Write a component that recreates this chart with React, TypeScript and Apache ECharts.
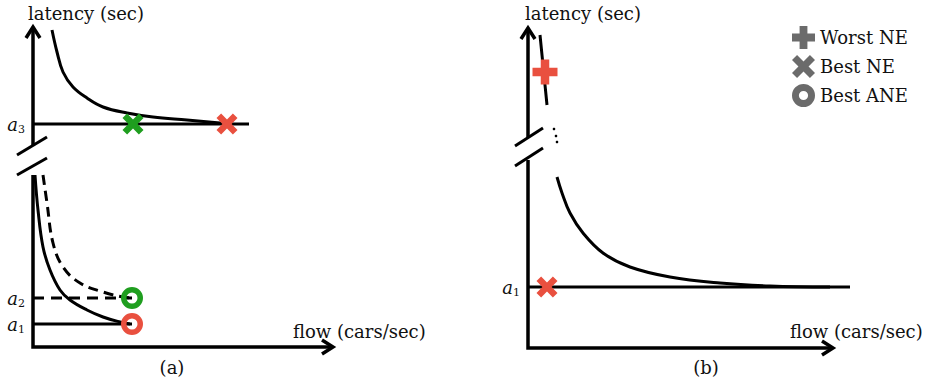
import React, { useEffect, useRef } from "react";
import * as echarts from "echarts";

const FONT = '"DejaVu Serif", "Liberation Serif", serif';
const INK = "#000";
const TEXT = "#111";
const RED = "#e9503f";
const GREEN = "#1f9e1f";
const GRAY = "#6b6b6b";

// Panel (a): latency levels and curves (flow, latency)
const A_LEVEL_1 = 2.3;
const A_LEVEL_2 = 4.9;
const A_LEVEL_3 = 22.3;
const aUpperLatency = [
  [1.9, 31.7], [2.4, 29.5], [3.0, 27.5], [4.0, 26.0], [5.4, 24.9], [7.0, 24.0],
  [9.4, 23.4], [12.0, 23.0], [15.4, 22.7], [18.7, 22.4], [20.0, 22.3],
];
const aLowerLatency = [
  [0.2, 17.2], [0.5, 13.7], [1.0, 10.0], [1.7, 7.7], [2.7, 5.7], [3.7, 4.7],
  [5.4, 3.7], [7.0, 3.0], [8.7, 2.5], [9.7, 2.3],
];
const aLowerLatencyAlt = [
  [1.0, 17.2], [1.4, 14.4], [2.0, 10.4], [3.0, 8.0], [4.7, 6.4], [7.0, 5.5],
  [9.0, 5.0], [9.9, 4.9],
];
const aLevel3End = 21.6;
const aLevel12End = 9.9;
const aBestNEGreen = [10.0, A_LEVEL_3];
const aBestNERed = [19.4, A_LEVEL_3];
const aBestANEGreen = [9.9, A_LEVEL_2];
const aBestANERed = [9.9, A_LEVEL_1];

// Panel (b)
const B_LEVEL_1 = 6.1;
const bUpperLatency = [[1.2, 31.3], [1.55, 27.8], [1.9, 24.3]];
const bEllipsis = [[2.6, 21.9], [2.8, 21.2], [2.9, 20.6]];
const bLowerLatency = [
  [2.9, 17.1], [3.4, 15.5], [4.2, 13.5], [5.5, 11.5], [7.5, 9.5], [10.2, 8.1],
  [14.2, 7.1], [19.2, 6.5], [24.2, 6.2], [30.2, 6.1],
];
const bLevel1End = 32.2;
const bWorstNE = [1.7, 27.6];
const bBestNE = [1.9, B_LEVEL_1];

const LEGEND_NAMES = ["Worst NE", "Best NE", "Best ANE"];

const PLUS = "path://M3.3,0H6.7V3.3H10V6.7H6.7V10H3.3V6.7H0V3.3H3.3Z";
const CROSS =
  "path://M0,2.2L2.2,0L5,2.8L7.8,0L10,2.2L7.2,5L10,7.8L7.8,10L5,7.2L2.2,10L0,7.8L2.8,5Z";
const RING =
  "path://M0,5A5,5 0 1,0 10,5A5,5 0 1,0 0,5ZM2.5,5A2.5,2.5 0 1,1 7.5,5A2.5,2.5 0 1,1 2.5,5Z";
const RING_BOLD =
  "path://M0,5A5,5 0 1,0 10,5A5,5 0 1,0 0,5ZM3,5A2,2 0 1,1 7,5A2,2 0 1,1 3,5Z";

const levelLabel = (v: number) => {
  if (v === A_LEVEL_1 || v === B_LEVEL_1) return "{i|a}{s|1}";
  if (v === A_LEVEL_2) return "{i|a}{s|2}";
  if (v === A_LEVEL_3) return "{i|a}{s|3}";
  return "";
};

const levelRich = {
  i: { fontFamily: FONT, fontStyle: "italic", fontSize: 18, color: TEXT },
  s: { fontFamily: FONT, fontSize: 11, color: TEXT, padding: [11, 0, 0, 0] },
};

const solid = (name: string, data: number[][], grid: number, extra: any = {}) => ({
  name,
  type: "line",
  xAxisIndex: grid,
  yAxisIndex: grid,
  data,
  showSymbol: false,
  symbol: "none",
  silent: true,
  z: 2,
  lineStyle: { color: INK, width: 3 },
  ...extra,
});

const curveOpts = { smooth: 0.4 };

const marker = (name: string, grid: number, symbol: string, size: number, items: any[]) => ({
  name,
  type: "scatter",
  xAxisIndex: grid,
  yAxisIndex: grid,
  symbol,
  symbolSize: size,
  z: 5,
  silent: true,
  itemStyle: { color: RED, opacity: 1 },
  data: items,
});

function buildOption() {
  return {
    animation: false,
    backgroundColor: "#fff",
    grid: [
      { left: 33, top: 27, width: 300, height: 320 },
      { left: 528, top: 28, width: 330, height: 320 },
    ],
    xAxis: [
      { gridIndex: 0, type: "value", min: 0, max: 30, show: false },
      { gridIndex: 1, type: "value", min: 0, max: 33, show: false },
    ],
    yAxis: [
      {
        gridIndex: 0, type: "value", min: 0, max: 32,
        axisLine: { show: false }, axisTick: { show: false }, splitLine: { show: false },
        axisLabel: {
          customValues: [A_LEVEL_1, A_LEVEL_2, A_LEVEL_3],
          margin: 8, formatter: levelLabel, rich: levelRich,
        },
      },
      {
        gridIndex: 1, type: "value", min: 0, max: 32,
        axisLine: { show: false }, axisTick: { show: false }, splitLine: { show: false },
        axisLabel: {
          customValues: [B_LEVEL_1],
          margin: 8, formatter: levelLabel, rich: levelRich,
        },
      },
    ],
    legend: {
      orient: "vertical",
      left: 787,
      top: 21,
      itemWidth: 23,
      itemHeight: 23,
      itemGap: 6,
      selectedMode: false,
      textStyle: { fontFamily: FONT, fontSize: 18, color: TEXT },
      data: [
        { name: LEGEND_NAMES[0], icon: PLUS, itemStyle: { color: GRAY, opacity: 1 } },
        { name: LEGEND_NAMES[1], icon: CROSS, itemStyle: { color: GRAY, opacity: 1 } },
        { name: LEGEND_NAMES[2], icon: RING_BOLD, itemStyle: { color: GRAY, opacity: 1 } },
      ],
    },
    series: [
      // panel (a)
      solid("a upper latency", aUpperLatency, 0, curveOpts),
      solid("a level 3", [[0, A_LEVEL_3], [aLevel3End, A_LEVEL_3]], 0),
      solid("a lower latency", aLowerLatency, 0, curveOpts),
      solid("a level 1", [[0, A_LEVEL_1], [aLevel12End, A_LEVEL_1]], 0),
      solid("a lower latency alt", aLowerLatencyAlt, 0, {
        ...curveOpts,
        lineStyle: { color: INK, width: 3, type: [10, 6] },
      }),
      solid("a level 2", [[0, A_LEVEL_2], [aLevel12End, A_LEVEL_2]], 0, {
        lineStyle: { color: INK, width: 3, type: [11, 7] },
      }),
      marker(LEGEND_NAMES[1], 0, CROSS, 21, [
        { value: aBestNEGreen, itemStyle: { color: GREEN, opacity: 1 } },
        { value: aBestNERed, itemStyle: { color: RED, opacity: 1 } },
      ]),
      marker(LEGEND_NAMES[2], 0, RING, 22, [
        { value: aBestANEGreen, itemStyle: { color: GREEN, opacity: 1 } },
        { value: aBestANERed, itemStyle: { color: RED, opacity: 1 } },
      ]),
      // panel (b)
      solid("b upper latency", bUpperLatency, 1, curveOpts),
      {
        name: "b ellipsis", type: "scatter", xAxisIndex: 1, yAxisIndex: 1,
        symbol: "circle", symbolSize: 2.6, silent: true, itemStyle: { color: INK, opacity: 1 },
        data: bEllipsis,
      },
      solid("b lower latency", bLowerLatency, 1, curveOpts),
      solid("b level 1", [[0, B_LEVEL_1], [bLevel1End, B_LEVEL_1]], 1),
      marker(LEGEND_NAMES[0], 1, PLUS, 25, [bWorstNE]),
      marker(LEGEND_NAMES[1], 1, CROSS, 21, [bBestNE]),
    ],
  };
}

type ToPx = (p: number[]) => number[];

const stroke = (w: number) => ({ stroke: INK, lineWidth: w, fill: null, lineJoin: "miter", lineCap: "butt" });

function poly(to: ToPx, pts: number[][], w = 3.5) {
  return { type: "polyline", silent: true, z: 10, shape: { points: pts.map(to) }, style: stroke(w) };
}

function upArrow(to: ToPx, tip: number[]) {
  const [x, y] = to(tip);
  return {
    type: "polyline", silent: true, z: 10,
    shape: { points: [[x - 7, y + 11], [x, y], [x + 7, y + 11]] },
    style: stroke(3.5),
  };
}

function rightArrow(to: ToPx, tip: number[]) {
  const [x, y] = to(tip);
  return {
    type: "polyline", silent: true, z: 10,
    shape: { points: [[x - 11, y - 7], [x, y], [x - 11, y + 7]] },
    style: stroke(3.5),
  };
}

function label(text: string, x: number, y: number, align = "left") {
  return {
    type: "text", silent: true, z: 10, x, y,
    style: {
      text, fill: TEXT, fontFamily: FONT, fontSize: 18,
      align, verticalAlign: "middle", textAlign: align, textVerticalAlign: "middle",
    },
  };
}

function buildGraphic(toA: ToPx, toB: ToPx) {
  return [
    // panel (a) axes with a broken latency axis
    poly(toA, [[0, 32], [0, 20.1]]),
    poly(toA, [[0, 17.2], [0, 0], [30, 0]]),
    upArrow(toA, [0, 32]),
    rightArrow(toA, [30, 0]),
    poly(toA, [[-1.6, 19.2], [1.4, 21.0]], 3),
    poly(toA, [[-1.6, 17.2], [1.4, 18.9]], 3),
    // panel (b)
    poly(toB, [[0, 32], [0, 21.0]]),
    poly(toB, [[0, 18.8], [0, 0], [30.5, 0]]),
    upArrow(toB, [0, 32]),
    rightArrow(toB, [30.5, 0]),
    poly(toB, [[-1.3, 20.2], [1.5, 22.0]], 3),
    poly(toB, [[-1.3, 18.2], [1.5, 20.0]], 3),
    // titles
    label("latency (sec)", 28, 13),
    label("latency (sec)", 525, 13),
    label("flow (cars/sec)", 293, 331),
    label("flow (cars/sec)", 790, 331),
    label("(a)", 172, 367, "center"),
    label("(b)", 706, 367, "center"),
  ];
}

export default function App() {
  const ref = useRef<HTMLDivElement>(null);
  useEffect(() => {
    document.body.style.margin = "0";
    if (!ref.current) return;
    const chart = echarts.init(ref.current, null, { renderer: "svg" });
    chart.setOption(buildOption() as any);
    const toA: ToPx = (p) => chart.convertToPixel({ gridIndex: 0 }, p) as number[];
    const toB: ToPx = (p) => chart.convertToPixel({ gridIndex: 1 }, p) as number[];
    chart.setOption({ graphic: buildGraphic(toA, toB) } as any);
    return () => chart.dispose();
  }, []);
  return <div ref={ref} style={{ width: 930, height: 381 }} />;
}
